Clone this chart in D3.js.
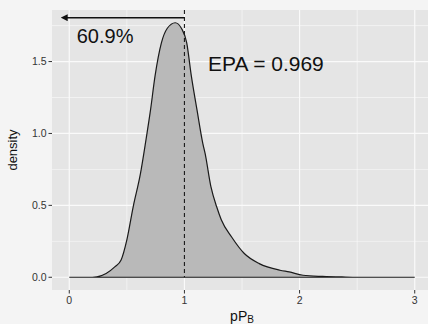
<!DOCTYPE html>
<html>
<head>
<meta charset="utf-8">
<script src="https://cdn.jsdelivr.net/npm/d3@7"></script>
<style>
  body { margin: 0; background: #f3f3f3; }
  svg { display: block; font-family: 'Liberation Sans', Arial, Helvetica, sans-serif; }
</style>
</head>
<body>
<div id="chartDiv"></div>
<script>
// density of pP_B
const densX = [0, 0.2, 0.24, 0.32, 0.395, 0.45, 0.5, 0.555, 0.618, 0.665, 0.705, 0.745, 0.8, 0.85, 0.92, 0.975, 1.02, 1.06, 1.11, 1.16, 1.18, 1.23, 1.28, 1.32, 1.41, 1.52, 1.65, 1.83, 1.91, 2.03, 2.2, 2.4, 2.6, 3]
const densY = [0, 0, 0.003, 0.026, 0.072, 0.12, 0.26, 0.49, 0.72, 0.95, 1.16, 1.40, 1.63, 1.73, 1.77, 1.73, 1.63, 1.40, 1.16, 0.93, 0.86, 0.63, 0.49, 0.40, 0.28, 0.165, 0.095, 0.049, 0.037, 0.014, 0.006, 0.002, 0, 0]

const xTicks = [0, 1, 2, 3]
const yTicks = [0, 0.5, 1, 1.5]
const xMinor = [0.5, 1.5, 2.5]
const yMinor = [0.25, 0.75, 1.25, 1.75]

const cutoff = 1
const arrowEnd = -0.02
const arrowY = 1.805
const pctLabel = '60.9%'
const epaLabel = 'EPA = 0.969'

const data = densX.map((x, i) => ({ x, y: densY[i] }))

const W = 428
const H = 324
const panel = { left: 52, top: 10, right: 432, bottom: 290 }

const svg = d3.select('#chartDiv').append('svg')
  .attr('width', W)
  .attr('height', H)

svg.append('rect').attr('width', W).attr('height', H).attr('fill', '#f4f4f4')

const x = d3.scaleLinear().domain([-0.15, 3.15]).range([panel.left, panel.right])
const y = d3.scaleLinear().domain([-0.0885, 1.8585]).range([panel.bottom, panel.top])

// panel background
svg.append('rect')
  .attr('x', panel.left)
  .attr('y', panel.top)
  .attr('width', panel.right - panel.left)
  .attr('height', panel.bottom - panel.top)
  .attr('fill', '#e5e5e5')

// grid lines
const grid = svg.append('g').attr('stroke', '#fafafa')
grid.selectAll('.ym').data(yMinor).enter().append('line')
  .attr('x1', panel.left).attr('x2', panel.right)
  .attr('y1', d => y(d)).attr('y2', d => y(d))
  .attr('stroke-width', 0.6)
grid.selectAll('.xm').data(xMinor).enter().append('line')
  .attr('y1', panel.top).attr('y2', panel.bottom)
  .attr('x1', d => x(d)).attr('x2', d => x(d))
  .attr('stroke-width', 0.6)
grid.selectAll('.yM').data(yTicks).enter().append('line')
  .attr('x1', panel.left).attr('x2', panel.right)
  .attr('y1', d => y(d)).attr('y2', d => y(d))
  .attr('stroke-width', 1.2)
grid.selectAll('.xM').data(xTicks).enter().append('line')
  .attr('y1', panel.top).attr('y2', panel.bottom)
  .attr('x1', d => x(d)).attr('x2', d => x(d))
  .attr('stroke-width', 1.2)

// density area
const area = d3.area()
  .x(d => x(d.x))
  .y0(y(0))
  .y1(d => y(d.y))
  .curve(d3.curveMonotoneX)

svg.append('path')
  .datum(data)
  .attr('d', area)
  .attr('fill', '#b9b9b9')
  .attr('stroke', '#1a1a1a')
  .attr('stroke-width', 1.2)

// cutoff line
svg.append('line')
  .attr('x1', x(cutoff)).attr('x2', x(cutoff))
  .attr('y1', panel.top).attr('y2', y(0))
  .attr('stroke', '#1a1a1a')
  .attr('stroke-width', 1.1)
  .attr('stroke-dasharray', '4,3')

// arrow
svg.append('defs').append('marker')
  .attr('id', 'head')
  .attr('viewBox', '0 0 10 10')
  .attr('refX', 1).attr('refY', 5)
  .attr('markerWidth', 7).attr('markerHeight', 7)
  .attr('markerUnits', 'userSpaceOnUse')
  .attr('orient', 'auto-start-reverse')
  .append('path')
  .attr('d', 'M0,0 L10,5 L0,10 Z')
  .attr('fill', '#111')

svg.append('line')
  .attr('x1', x(cutoff)).attr('x2', x(arrowEnd))
  .attr('y1', y(arrowY)).attr('y2', y(arrowY))
  .attr('stroke', '#111')
  .attr('stroke-width', 1.4)
  .attr('marker-end', 'url(#head)')

svg.append('text')
  .attr('x', x(0.065))
  .attr('y', y(1.63))
  .attr('font-size', 20)
  .attr('fill', '#111')
  .text(pctLabel)

svg.append('text')
  .attr('x', x(1.205))
  .attr('y', y(1.435))
  .attr('font-size', 21)
  .attr('fill', '#111')
  .text(epaLabel)

// axes
const tickCol = '#333'
const yAxis = svg.append('g')
yAxis.selectAll('line').data(yTicks).enter().append('line')
  .attr('x1', panel.left - 3.5).attr('x2', panel.left)
  .attr('y1', d => y(d)).attr('y2', d => y(d))
  .attr('stroke', tickCol)
yAxis.selectAll('text').data(yTicks).enter().append('text')
  .attr('x', panel.left - 5.5)
  .attr('y', d => y(d))
  .attr('dy', '0.35em')
  .attr('text-anchor', 'end')
  .attr('font-size', 10.5)
  .attr('fill', tickCol)
  .text(d3.format('.1f'))

const xAxis = svg.append('g')
xAxis.selectAll('line').data(xTicks).enter().append('line')
  .attr('x1', d => x(d)).attr('x2', d => x(d))
  .attr('y1', panel.bottom).attr('y2', panel.bottom + 3.5)
  .attr('stroke', tickCol)
xAxis.selectAll('text').data(xTicks).enter().append('text')
  .attr('x', d => x(d))
  .attr('y', panel.bottom + 14)
  .attr('text-anchor', 'middle')
  .attr('font-size', 10.5)
  .attr('fill', tickCol)
  .text(d => d)

// axis titles
svg.append('text')
  .attr('transform', `translate(17,${(panel.top + panel.bottom) / 2}) rotate(-90)`)
  .attr('text-anchor', 'middle')
  .attr('font-size', 13)
  .attr('fill', '#111')
  .text('density')

const xt = svg.append('text')
  .attr('x', 242)
  .attr('y', 321)
  .attr('text-anchor', 'middle')
  .attr('font-size', 14)
  .attr('fill', '#111')
xt.append('tspan').text('pP')
xt.append('tspan').attr('font-size', 10).attr('dy', 2).text('B')
</script>
</body>
</html>
